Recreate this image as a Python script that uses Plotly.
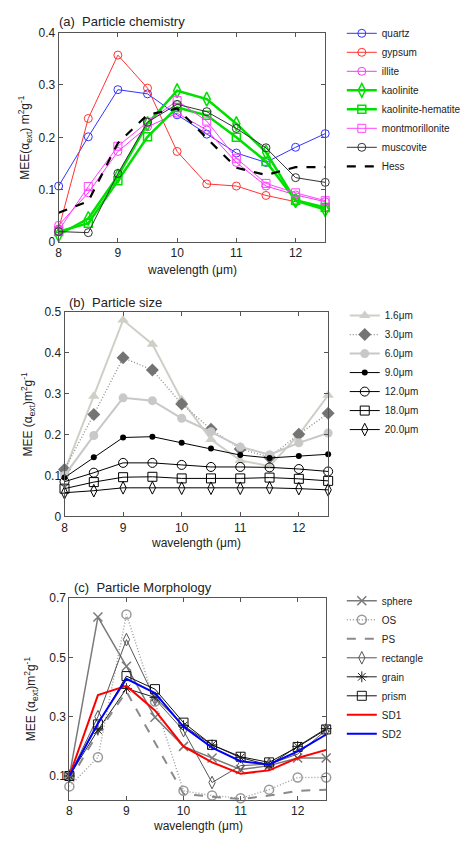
import plotly.graph_objects as go

W, H = 466, 850

wavelength = [8, 8.5, 9, 9.5, 10, 10.5, 11, 11.5, 12, 12.5]
x_ticks = [8, 9, 10, 11, 12]

# (a) particle chemistry, MEE in m2/g
quartz = [0.107, 0.201, 0.291, 0.283, 0.243, 0.206, 0.170, 0.152, 0.181, 0.207]
gypsum = [0.025, 0.236, 0.357, 0.294, 0.173, 0.111, 0.107, 0.089, 0.077, 0.066]
illite = [0.032, 0.094, 0.173, 0.220, 0.246, 0.214, 0.152, 0.107, 0.090, 0.077]
kaolinite = [0.014, 0.045, 0.126, 0.226, 0.289, 0.273, 0.226, 0.172, 0.079, 0.062]
kaolinite_hematite = [0.020, 0.036, 0.117, 0.201, 0.257, 0.242, 0.200, 0.154, 0.080, 0.066]
montmorillonite = [0.022, 0.106, 0.183, 0.229, 0.270, 0.231, 0.160, 0.112, 0.094, 0.079]
muscovite = [0.020, 0.018, 0.131, 0.229, 0.263, 0.249, 0.217, 0.180, 0.123, 0.114]
hess = [0.056, 0.078, 0.189, 0.243, 0.255, 0.198, 0.142, 0.128, 0.143, 0.143]

# (b) particle size
size_1_6 = [0.110, 0.294, 0.480, 0.421, 0.285, 0.188, 0.137, 0.123, 0.200, 0.296]
size_3_0 = [0.115, 0.249, 0.388, 0.358, 0.275, 0.213, 0.165, 0.145, 0.201, 0.252]
size_6_0 = [0.100, 0.198, 0.290, 0.283, 0.240, 0.207, 0.170, 0.151, 0.180, 0.204]
size_9_0 = [0.095, 0.145, 0.193, 0.195, 0.180, 0.166, 0.150, 0.143, 0.148, 0.152]
size_12_0 = [0.085, 0.107, 0.131, 0.131, 0.126, 0.121, 0.121, 0.120, 0.116, 0.110]
size_18_0 = [0.068, 0.084, 0.096, 0.097, 0.093, 0.093, 0.093, 0.095, 0.092, 0.087]
size_20_0 = [0.058, 0.063, 0.070, 0.070, 0.069, 0.069, 0.069, 0.070, 0.068, 0.065]

# (c) particle morphology
sphere = [0.100, 0.636, 0.470, 0.298, 0.200, 0.161, 0.122, 0.135, 0.161, 0.161]
os_shape = [0.065, 0.163, 0.645, 0.351, 0.050, 0.034, 0.025, 0.054, 0.095, 0.095]
ps_shape = [0.083, 0.245, 0.385, 0.215, 0.040, 0.030, 0.022, 0.034, 0.050, 0.054]
rectangle = [0.100, 0.300, 0.560, 0.360, 0.253, 0.078, 0.135, 0.140, 0.174, 0.255]
grain = [0.100, 0.255, 0.395, 0.365, 0.270, 0.205, 0.162, 0.137, 0.200, 0.260]
prism = [0.100, 0.274, 0.437, 0.393, 0.280, 0.205, 0.165, 0.146, 0.198, 0.257]
sd1 = [0.100, 0.373, 0.404, 0.321, 0.200, 0.146, 0.108, 0.119, 0.161, 0.188]
sd2 = [0.100, 0.278, 0.428, 0.380, 0.266, 0.196, 0.150, 0.139, 0.183, 0.240]

FONT = "Liberation Sans, Arial, sans-serif"
DOTTED = "1px,2px"


def px(x):
    return x / W


def py(y):
    return 1 - y / H


fig = go.Figure()


def add(x, y, name, color, axis, legend, width=1, dash="solid", symbol=None,
        msize=8, mcolor=None, mline=1):
    mode = "lines+markers" if symbol else "lines"
    mk = None
    if symbol:
        mc = mcolor or color
        mk = dict(symbol=symbol, size=msize, color=mc,
                  line=dict(color=mc, width=mline))
    fig.add_trace(go.Scatter(
        x=x, y=y, name=name, mode=mode,
        line=dict(color=color, width=width, dash=dash),
        marker=mk, xaxis="x" + axis, yaxis="y" + axis, legend=legend,
        cliponaxis=False,
    ))


# panel (a)
add(wavelength, quartz, "quartz", "#3333ff", "", "legend", symbol="circle-open")
add(wavelength, gypsum, "gypsum", "#ff3333", "", "legend", symbol="circle-open")
add(wavelength, illite, "illite", "#ff33ff", "", "legend", symbol="circle-open")
add(wavelength, kaolinite, "kaolinite", "#00e000", "", "legend", width=2.5,
    symbol="diamond-tall-open", msize=10, mline=1.5)
add(wavelength, kaolinite_hematite, "kaolinite-hematite", "#00e000", "", "legend",
    width=2.5, symbol="square-open", msize=8, mline=1.5)
add(wavelength, montmorillonite, "montmorillonite", "#ff44ff", "", "legend",
    symbol="square-open")
add(wavelength, muscovite, "muscovite", "#333333", "", "legend", symbol="circle-open")
add(wavelength, hess, "Hess", "#000000", "", "legend", width=2.2, dash="dash")

# panel (b)
add(wavelength, size_1_6, "1.6\u03bcm", "#cfcfc8", "2", "legend2", width=2,
    symbol="triangle-up", msize=10, mline=0)
add(wavelength, size_3_0, "3.0\u03bcm", "#8a8a8a", "2", "legend2", width=1.3,
    dash=DOTTED, symbol="diamond", msize=10, mcolor="#747474", mline=0)
add(wavelength, size_6_0, "6.0\u03bcm", "#c8c8c8", "2", "legend2", width=2,
    symbol="circle", msize=9, mline=0)
add(wavelength, size_9_0, "9.0\u03bcm", "#000000", "2", "legend2",
    symbol="circle", msize=6, mline=0)
add(wavelength, size_12_0, "12.0\u03bcm", "#000000", "2", "legend2",
    symbol="circle-open", msize=9)
add(wavelength, size_18_0, "18.0\u03bcm", "#000000", "2", "legend2",
    symbol="square-open", msize=9)
add(wavelength, size_20_0, "20.0\u03bcm", "#000000", "2", "legend2",
    symbol="diamond-tall-open", msize=9)

# panel (c)
add(wavelength, sphere, "sphere", "#7a7a7a", "3", "legend3", width=1.5,
    symbol="x-thin-open", msize=9, mline=1.5)
add(wavelength, os_shape, "OS", "#9a9a9a", "3", "legend3", width=1.4, dash=DOTTED,
    symbol="circle-open", msize=9, mline=1.5)
add(wavelength, ps_shape, "PS", "#8a8a8a", "3", "legend3", width=2, dash="dash")
add(wavelength, rectangle, "rectangle", "#555555", "3", "legend3",
    symbol="diamond-tall-open", msize=9)
add(wavelength, grain, "grain", "#222222", "3", "legend3",
    symbol="asterisk-open", msize=9)
add(wavelength, prism, "prism", "#111111", "3", "legend3",
    symbol="square-open", msize=9)
add(wavelength, sd1, "SD1", "#ff0000", "3", "legend3", width=2)
add(wavelength, sd2, "SD2", "#0000ff", "3", "legend3", width=2)


def xaxis(left, right, bottom, anchor):
    return dict(domain=[px(left), px(right)], range=[8, 12.5], tickvals=x_ticks,
                anchor=anchor, showline=True, linecolor="#555", linewidth=1,
                mirror="allticks", ticks="inside", ticklen=4, tickcolor="#555",
                showgrid=False, zeroline=False,
                tickfont=dict(family=FONT, size=12, color="#222"))


def yaxis(top, bottom, rng, ticks, anchor):
    return dict(domain=[py(bottom), py(top)], range=rng, tickvals=ticks,
                anchor=anchor, showline=True, linecolor="#555", linewidth=1,
                mirror="allticks", ticks="inside", ticklen=4, tickcolor="#555",
                showgrid=False, zeroline=False,
                tickfont=dict(family=FONT, size=12, color="#222"))


A = dict(left=57, right=330, top=26, bottom=239)
B = dict(left=63, right=333, top=310, bottom=518)
C = dict(left=68, right=331, top=601, bottom=806)

fig.update_layout(
    xaxis=xaxis(A["left"], A["right"], A["bottom"], "y"),
    yaxis=yaxis(A["top"], A["bottom"], [0, 0.4], [0, 0.1, 0.2, 0.3, 0.4], "x"),
    xaxis2=xaxis(B["left"], B["right"], B["bottom"], "y2"),
    yaxis2=yaxis(B["top"], B["bottom"], [0, 0.5], [0, 0.1, 0.2, 0.3, 0.4, 0.5], "x2"),
    xaxis3=xaxis(C["left"], C["right"], C["bottom"], "y3"),
    yaxis3=yaxis(C["top"], C["bottom"], [0.02, 0.7], [0.1, 0.3, 0.5, 0.7], "x3"),
)


def legend(x, y):
    return dict(x=px(x), y=py(y), xanchor="left", yanchor="top",
                bgcolor="rgba(0,0,0,0)", borderwidth=0, itemwidth=30,
                tracegroupgap=0, font=dict(family=FONT, size=10, color="#222"))


fig.update_layout(legend=legend(347, 12), legend2=legend(350, 299),
                  legend3=legend(347, 589))

annotations = []


def text(x, y, s, size=13, angle=0, xanchor="center"):
    annotations.append(dict(x=px(x), y=py(y), xref="paper", yref="paper", text=s,
                            showarrow=False, textangle=angle, xanchor=xanchor,
                            yanchor="middle",
                            font=dict(family=FONT, size=size, color="#222")))


# panel titles
text(55, 15, "(a)\u00a0\u00a0Particle chemistry", xanchor="left")
text(66, 300, "(b)\u00a0\u00a0Particle size", xanchor="left")
text(71, 590, "(c)\u00a0\u00a0Particle Morphology", xanchor="left")

# axis titles
xlab = "wavelength (\u03bcm)"
text((A["left"] + A["right"]) / 2, 267, xlab, size=12)
text((B["left"] + B["right"]) / 2, 545, xlab, size=12)
text((C["left"] + C["right"]) / 2, 833, xlab, size=12)
text(23, (A["top"] + A["bottom"]) / 2,
     "MEE(\u03b1<sub>ext</sub>) m<sup>2</sup>g<sup>-1</sup>", size=12, angle=-90)
text(26, (B["top"] + B["bottom"]) / 2,
     "MEE (\u03b1<sub>ext</sub>)m<sup>2</sup>g<sup>-1</sup>", size=12, angle=-90)
text(29, (C["top"] + C["bottom"]) / 2,
     "MEE (\u03b1<sub>ext</sub>)m<sup>2</sup>g<sup>-1</sup>", size=12, angle=-90)

fig.update_layout(
    annotations=annotations,
    width=W, height=H, autosize=False,
    margin=dict(l=0, r=0, t=0, b=0),
    paper_bgcolor="white", plot_bgcolor="white",
    font=dict(family=FONT),
)

fig.write_html("out.html")
